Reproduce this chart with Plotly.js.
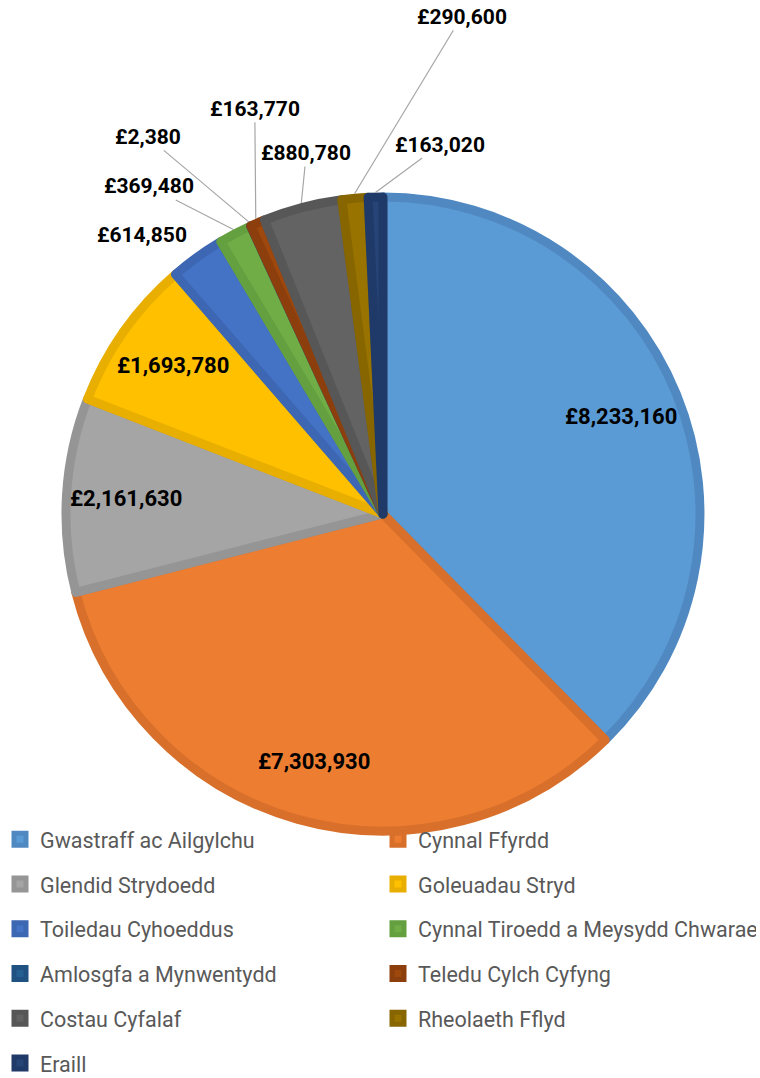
<!DOCTYPE html>
<html>
<head>
<meta charset="utf-8">
<script src="https://cdn.plot.ly/plotly-3.0.1.min.js"></script>
<style>html,body{margin:0;padding:0;background:#fff;}</style>
</head>
<body>
<div id="chart" style="width:760px;height:1078px;"></div>
<script>
// ---- data ----
const categories = ['Gwastraff ac Ailgylchu','Cynnal Ffyrdd','Glendid Strydoedd','Goleuadau Stryd','Toiledau Cyhoeddus','Cynnal Tiroedd a Meysydd Chwarae','Amlosgfa a Mynwentydd','Teledu Cylch Cyfyng','Costau Cyfalaf','Rheolaeth Fflyd','Eraill'];
const values = [8233160, 7303930, 2161630, 1693780, 614850, 369480, 2380, 163770, 880780, 290600, 163020];

// ---- styles ----
const fillColors = ['#5B9BD5','#ED7D31','#A5A5A5','#FFC000','#4472C4','#70AD47','#255E91','#9E480E','#636363','#997300','#264478'];
const lineColors = ['#5089C2','#D8702B','#959595','#E8AE00','#3D67B2','#64A03F','#1F5282','#8C3F0C','#575757','#876600','#1F3A68'];
const labelInside = [true, true, true, true, false, false, false, false, false, false, false];
// pixel offsets of outside labels from the slice edge
const labelOffX = [0, 0, 0, 0, -53, -84, -101, -1, 5, 107, 65];
const labelOffY = [0, 0, 0, 0, -18, -43, -85, -110, -50, -177, -48];
const labelLeader = [false, false, false, false, false, true, true, true, true, true, true];

const W = 760, H = 1078;
const domainX = [0.0868, 0.9210];
const domainY = [0.2291, 0.8173];
const lineW = 9;

function fmt(v) { return '£' + String(v).replace(/\B(?=(\d{3})+(?!\d))/g, ','); }

const total = values.reduce((a, b) => a + b, 0);
const cx = W * (domainX[0] + domainX[1]) / 2;
const cy = H * (1 - (domainY[0] + domainY[1]) / 2);
const R = Math.min(W * (domainX[1] - domainX[0]), H * (domainY[1] - domainY[0])) / 2;

const annotations = [];
let cum = 0;
values.forEach((v, i) => {
  const mid = (cum + v / 2) / total * 2 * Math.PI;
  cum += v;
  const s = Math.sin(mid), c = Math.cos(mid);
  if (labelInside[i]) {
    const r = 0.8 * (R + lineW / 2);
    annotations.push({
      xref: 'paper', yref: 'paper',
      x: (cx + r * s) / W, y: 1 - (cy - r * c) / H,
      xanchor: 'center', yanchor: 'middle',
      text: fmt(v), showarrow: false,
      font: {family: 'Roboto', size: 22, color: '#000000', weight: 'bold'}
    });
  } else {
    const r = R + lineW / 2;
    annotations.push({
      xref: 'paper', yref: 'paper',
      x: (cx + r * s) / W, y: 1 - (cy - r * c) / H,
      text: fmt(v), showarrow: true,
      ax: labelOffX[i], ay: labelOffY[i], axref: 'pixel', ayref: 'pixel',
      arrowhead: 0, arrowwidth: 1.2, standoff: 0, startstandoff: 0,
      arrowcolor: labelLeader[i] ? '#A6A6A6' : 'rgba(0,0,0,0)',
      font: {family: 'Roboto', size: 21, color: '#000000', weight: 'bold'}
    });
  }
});

const legendLabels = categories.map(c => '<span style="font-size:21.5px;baseline-shift:4px">' + c + '</span>');

const trace = {
  type: 'pie',
  values: values,
  labels: legendLabels,
  sort: false,
  direction: 'clockwise',
  rotation: 0,
  textinfo: 'none',
  hoverinfo: 'label+value+percent',
  marker: {colors: fillColors, line: {color: lineColors, width: lineW}},
  domain: {x: domainX, y: domainY}
};

const layout = {
  width: W, height: H,
  margin: {l: 0, r: 0, t: 0, b: 0, autoexpand: false},
  paper_bgcolor: '#ffffff',
  showlegend: true,
  legend: {
    orientation: 'h', x: 0, xanchor: 'left', y: 1 - 812 / H, yanchor: 'top',
    entrywidth: 333, entrywidthmode: 'pixels', traceorder: 'normal',
    font: {family: 'Roboto', size: 32.1, color: '#595959'},
    bgcolor: 'rgba(0,0,0,0)', borderwidth: 0
  },
  annotations: annotations
};

Plotly.newPlot('chart', [trace], layout, {displayModeBar: false, staticPlot: true});
</script>
</body>
</html>
